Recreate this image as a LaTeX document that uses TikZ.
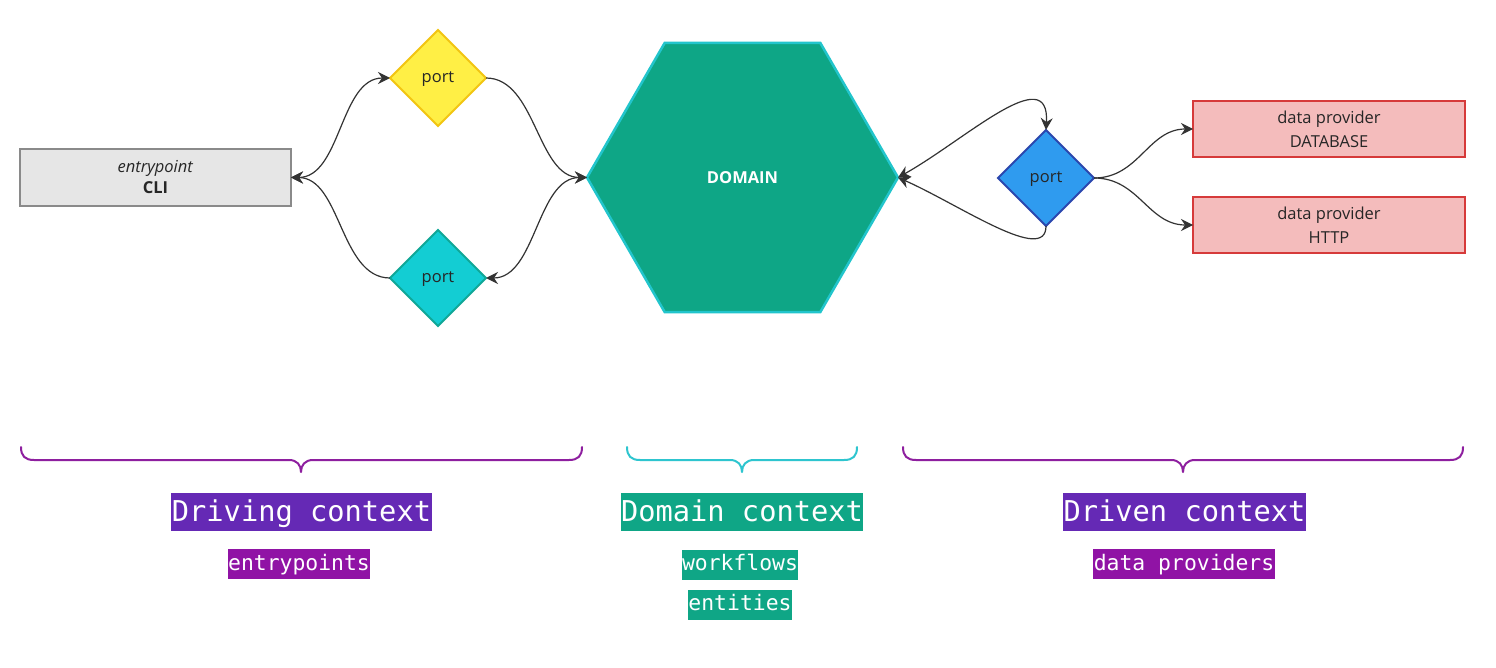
\documentclass[tikz,border=0pt]{standalone}
\usepackage{fontspec}
\setmainfont{Open Sans}
\newfontfamily\labelmono{DejaVu Sans Mono}
\usetikzlibrary{shapes.geometric,arrows.meta}
\definecolor{arrowgray}{HTML}{333333}
\definecolor{yelfill}{HTML}{FFEF45}
\definecolor{yelline}{HTML}{F2C512}
\definecolor{tealfill}{HTML}{13CDD3}
\definecolor{tealline}{HTML}{10A797}
\definecolor{hexfill}{HTML}{0EA686}
\definecolor{hexline}{HTML}{22C5CC}
\definecolor{bluefill}{HTML}{2F9BEF}
\definecolor{blueline}{HTML}{2B47AE}
\definecolor{provfill}{HTML}{F4BCBC}
\definecolor{provline}{HTML}{D63A3A}
\definecolor{clifill}{HTML}{E6E6E6}
\definecolor{cliline}{HTML}{8A8A8A}
\definecolor{purplelab}{HTML}{6529B5}
\definecolor{magentalab}{HTML}{9013A5}
\definecolor{greenlab}{HTML}{0FA686}
\definecolor{bracepurple}{HTML}{8E1F9F}
\definecolor{bracecyan}{HTML}{2EC5CF}
\begin{document}
\begin{tikzpicture}[x=1pt,y=-1pt,
  every node/.style={inner sep=0pt,outer sep=0pt},
  >={Stealth[length=12pt,width=12pt,inset=4pt]},
  portbox/.style={diamond, aspect=1, minimum width=96pt, minimum height=96pt,
    line width=2pt, font=\fontsize{16.5}{19}\selectfont, text=black!85,
    text height=9pt, text depth=0pt},
  provbox/.style={rectangle, minimum width=272pt, minimum height=56pt,
    draw=provline, fill=provfill, line width=2pt, align=center,
    font=\fontsize{16.5}{24}\selectfont, text=black!85},
  conn/.style={draw=arrowgray, line width=1.2pt},
  bracepath/.style={line width=2pt, line cap=round, line join=round},
  ctxlabel/.style={text=white, inner xsep=0.5pt, inner ysep=0pt,
    text height=28.7pt, text depth=9.3pt,
    font=\labelmono\fontsize{28.7}{30}\selectfont},
  sublabel/.style={text=white, inner xsep=0.5pt, inner ysep=0pt,
    text height=21pt, text depth=9pt,
    font=\labelmono\fontsize{21.4}{24}\selectfont}
]
\useasboundingbox (0,0) rectangle (1496,668);
\fill[white] (0,0) rectangle (1496,668);

% nodes
\node[rectangle, minimum width=271pt, minimum height=57pt, draw=cliline,
  fill=clifill, line width=2pt, align=center, font=\fontsize{16.5}{21}\selectfont,
  text=black!85] (cli) at (155.5,177.5) {\textit{entrypoint}\\\textbf{CLI}};
\node[portbox, draw=yelline, fill=yelfill] (py) at (438,78) {port};
\node[portbox, draw=tealline, fill=tealfill] (pt) at (438,278) {port};
\node[regular polygon, regular polygon sides=6, minimum size=311pt,
  draw=hexline, fill=hexfill, line width=2.5pt, text=white,
  font=\bfseries\fontsize{16.5}{20}\selectfont] (dom) at (742.5,177.5) {DOMAIN};
\node[portbox, draw=blueline, fill=bluefill] (pb) at (1046,178) {port};
\node[provbox] (db) at (1329,129) {data provider\\DATABASE};
\node[provbox] (http) at (1329,225) {data provider\\HTTP};

% connectors
\draw[conn,<->] (cli.east) .. controls +(50,0) and +(-50,0) .. (py.west);
\draw[conn,->] (pt.west) .. controls +(-50,0) and +(50,0) .. (cli.east);
\draw[conn,->] (py.east) .. controls +(50,0) and +(-50,0) .. (dom.west);
\draw[conn,<->] (pt.east) .. controls +(50,0) and +(-50,0) .. (dom.west);
\draw[conn,<->] (dom.east) .. controls (965,140) and (1050,60) .. (pb.north);
\draw[conn,->] (pb.south) .. controls (1046,265) and (960,205) .. (dom.east);
\draw[conn,->] (pb.east) .. controls +(45,0) and +(-45,0) .. (db.west);
\draw[conn,->] (pb.east) .. controls +(45,0) and +(-45,0) .. (http.west);

% braces
\draw[bracepath, draw=bracepurple] (21,447) .. controls (21,456) and (25,460) .. (34,460)
  -- (289,460) .. controls (297,460) and (301,465) .. (301,472)
  .. controls (301,465) and (305,460) .. (313,460) -- (569,460)
  .. controls (578,460) and (582,456) .. (582,447);
\draw[bracepath, draw=bracecyan] (627,447) .. controls (627,456) and (631,460) .. (640,460)
  -- (730,460) .. controls (738,460) and (742,465) .. (742,472)
  .. controls (742,465) and (746,460) .. (754,460) -- (844,460)
  .. controls (853,460) and (857,456) .. (857,447);
\draw[bracepath, draw=bracepurple] (903,447) .. controls (903,456) and (907,460) .. (916,460)
  -- (1171,460) .. controls (1179,460) and (1183,465) .. (1183,472)
  .. controls (1183,465) and (1187,460) .. (1195,460) -- (1450,460)
  .. controls (1459,460) and (1463,456) .. (1463,447);

% labels
\node[ctxlabel, fill=purplelab] (drvlab) at (301.5,512) {Driving context};
\node[ctxlabel, fill=greenlab] (domlab) at (742,512) {Domain context};
\node[ctxlabel, fill=purplelab] (dnlab) at (1184.5,512) {Driven context};
\node[sublabel, fill=magentalab] (entlab) at (299,564) {entrypoints};
\node[sublabel, fill=greenlab] (wflab) at (740,564.5) {workflows};
\node[sublabel, fill=greenlab] (enlab) at (740,604.5) {entities};
\node[sublabel, fill=magentalab] (dplab) at (1184,564) {data providers};
\end{tikzpicture}
\end{document}
